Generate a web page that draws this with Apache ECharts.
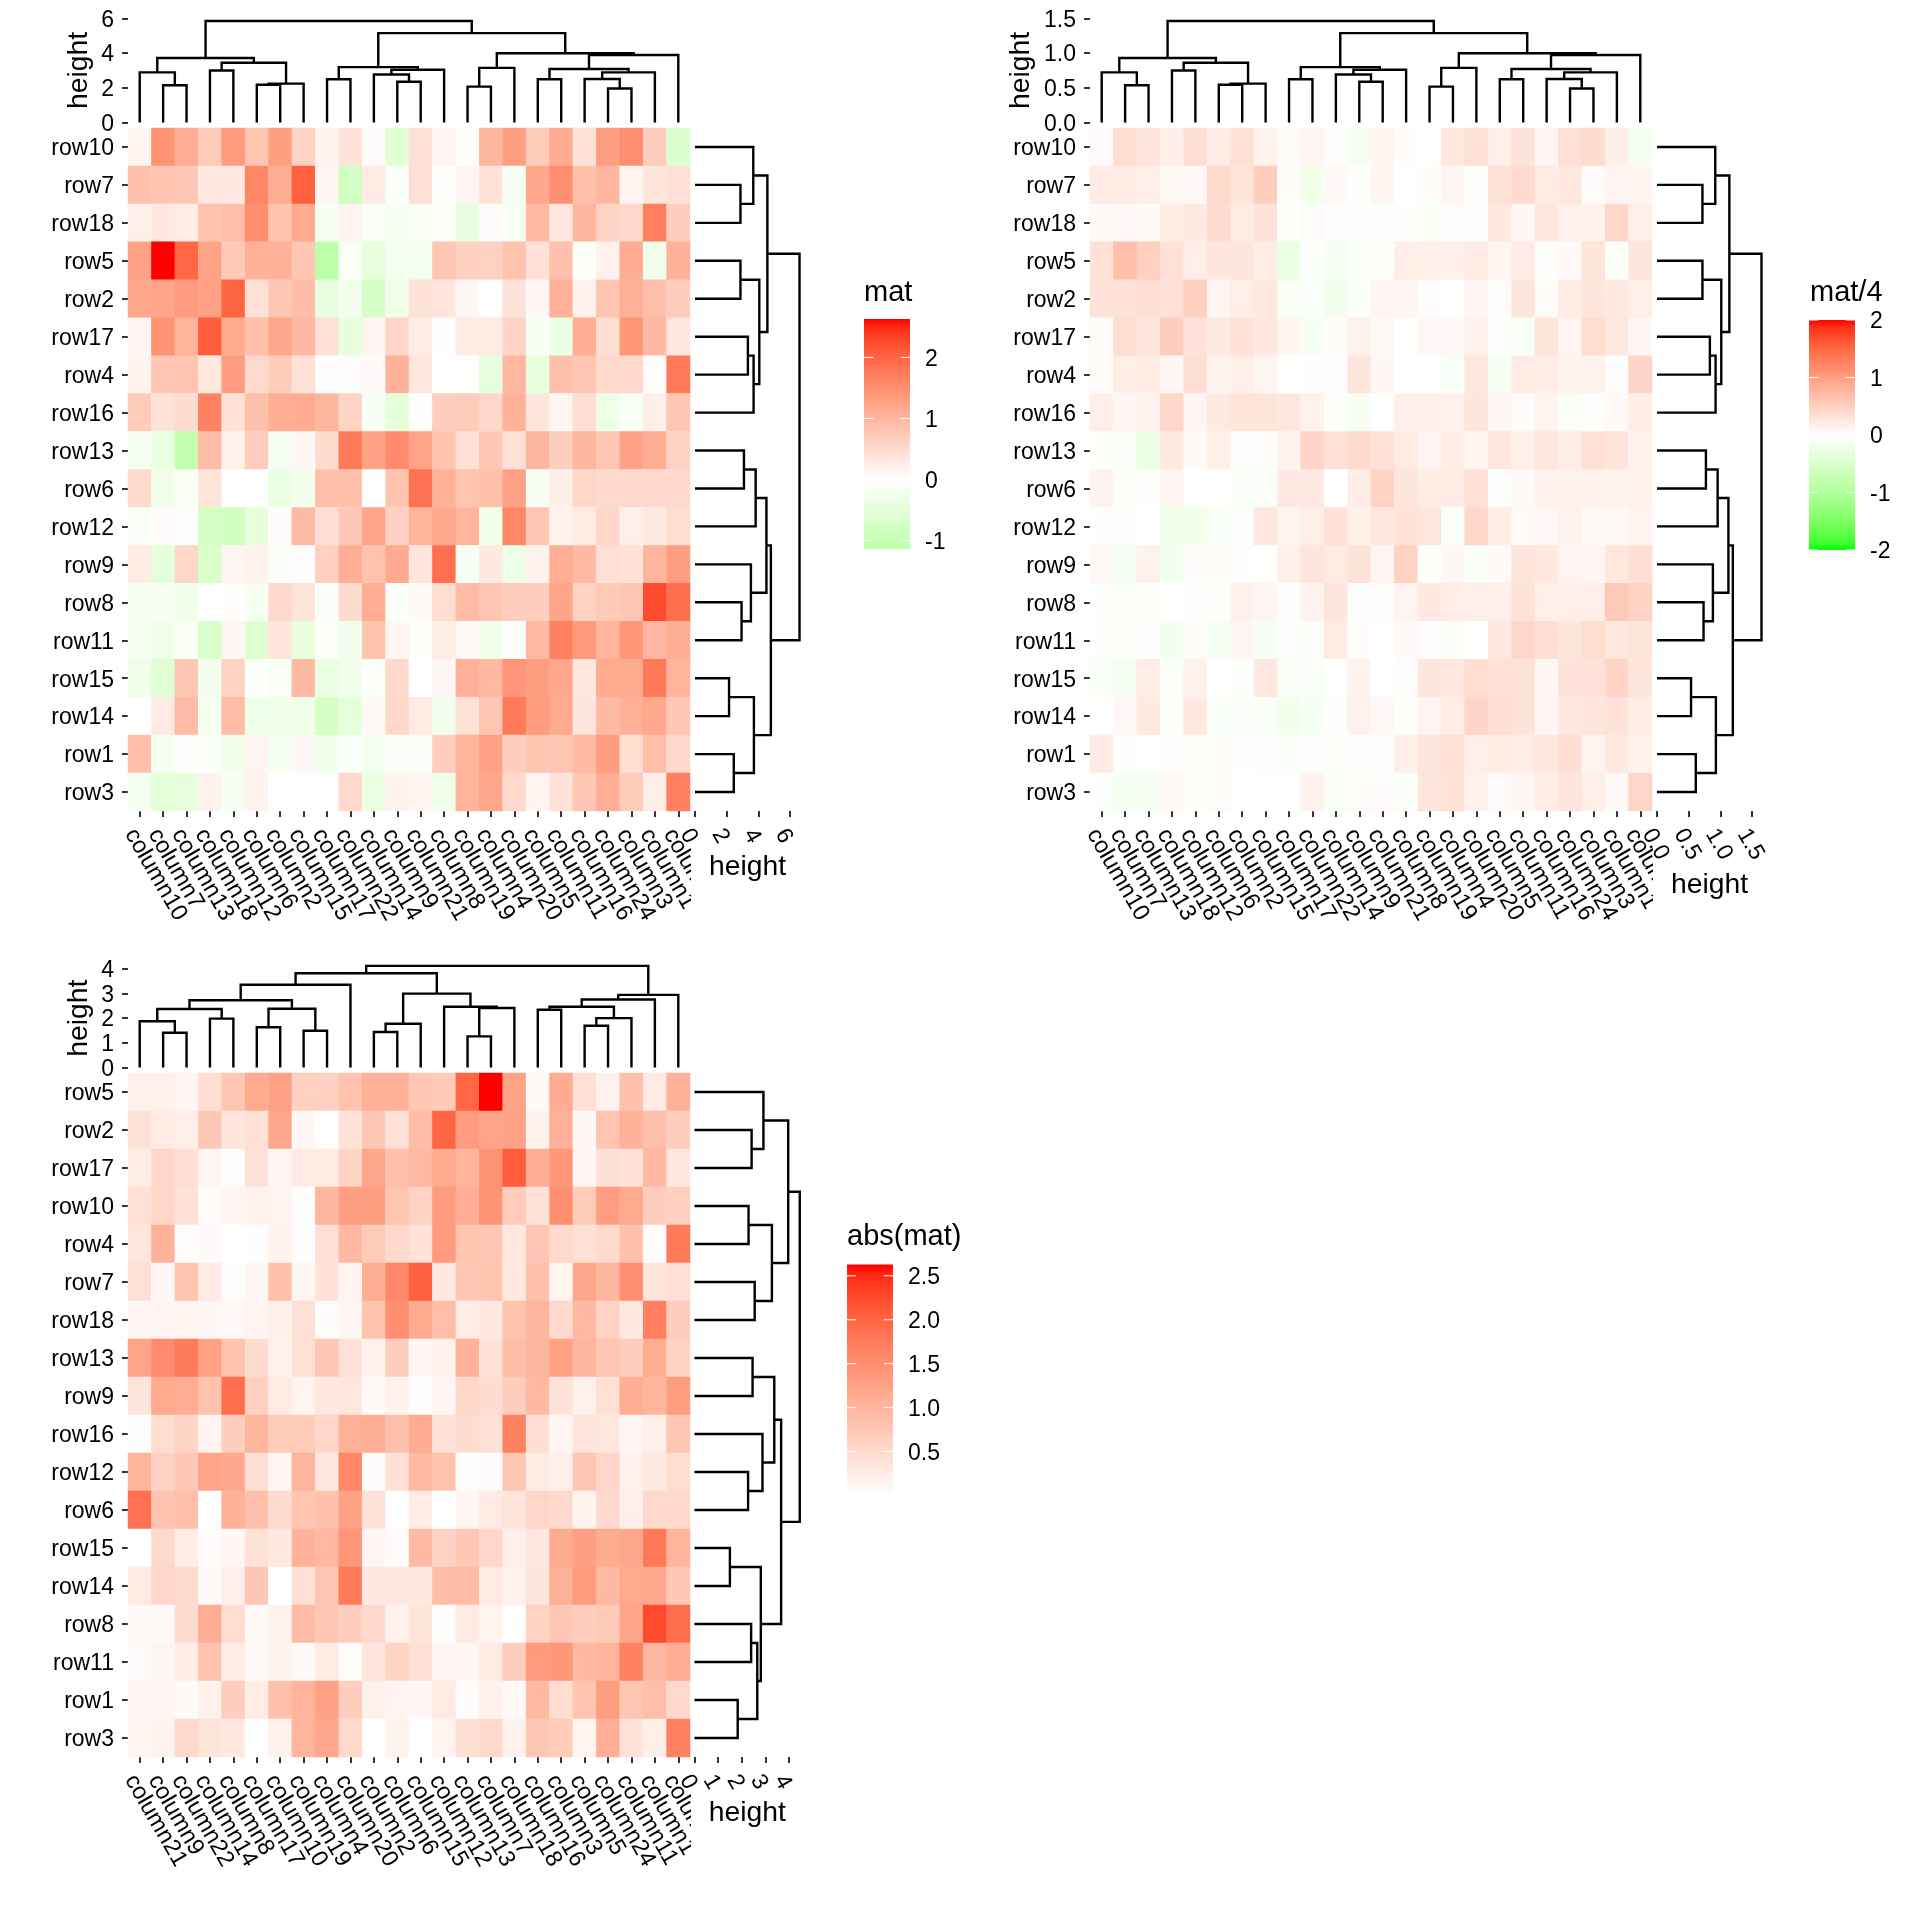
<!DOCTYPE html>
<html><head><meta charset="utf-8">
<style>html,body{margin:0;padding:0;background:#fff}#c{width:1920px;height:1920px}</style>
<script src="https://cdn.jsdelivr.net/npm/echarts@6/dist/echarts.min.js"></script>
</head><body><div id="c"></div>
<script>
const rowsA = ['row10','row7','row18','row5','row2','row17','row4','row16','row13','row6','row12','row9','row8','row11','row15','row14','row1','row3'];
const colsA = ['column10','column7','column13','column18','column12','column6','column2','column15','column17','column22','column14','column9','column21','column8','column19','column4','column20','column5','column11','column16','column24','column3','column1','column23'];
const rowsC = ['row5','row2','row17','row10','row4','row7','row18','row13','row9','row16','row12','row6','row15','row14','row8','row11','row1','row3'];
const colsC = ['column21','column9','column22','column14','column8','column17','column10','column19','column4','column20','column2','column6','column15','column12','column13','column7','column18','column16','column3','column5','column24','column11','column1','column23'];
// mat: rows follow rowsA, columns follow colsA
const mat = [
[.15,1.45,1.1,.7,1.35,.8,1.3,.6,.17,.38,.05,-.55,.42,.12,.02,1.0,1.3,.7,1.15,.4,1.32,1.5,.68,-.65],
[.85,.8,.75,.3,.3,1.6,1.12,2.05,.13,-.8,.27,-.1,.42,-.02,.13,.38,-.14,1.2,1.5,.85,1.0,.15,.35,.42],
[.22,.3,.25,.82,.9,1.5,.83,1.15,-.15,.15,-.1,-.14,-.13,-.09,-.42,.05,-.13,.95,.32,1.0,.6,.53,1.7,.68],
[1.27,2.63,1.98,1.25,.73,1.05,1.05,.77,-1.15,-.12,-.45,-.2,-.2,.78,.65,.63,.83,.42,.85,-.07,.2,1.13,-.27,1.05],
[1.2,1.22,1.35,1.28,2.0,.42,.75,.92,-.42,-.23,-.75,-.27,.4,.36,.1,0,.38,.1,1.05,.18,.8,1.07,.88,.68],
[.13,1.45,1.03,2.08,1.15,.88,1.2,.97,.42,-.45,.14,.55,.25,.02,.27,.27,.58,-.14,-.38,1.12,.44,1.4,.97,.33],
[.17,.77,.8,.33,1.35,.52,.7,.38,.02,.03,.06,1.05,.33,0,-.01,-.42,.97,-.43,.85,.78,.52,.52,.03,1.75],
[.7,.4,.48,1.65,.4,.87,1.12,1.13,1.0,.58,-.15,-.47,-.02,.67,.7,.57,1.05,.35,.12,.45,-.33,-.13,.22,.78],
[-.2,-.38,-1.05,.92,.2,.68,-.18,.1,.48,1.75,1.28,1.55,1.25,.83,.43,.77,.42,1.0,.67,1.0,.78,1.28,1.12,.6],
[.48,-.27,-.13,.37,0,0,-.38,-.25,.87,.87,0,.82,1.85,1.05,.8,.85,1.27,-.17,.22,.55,.53,.53,.52,.53],
[-.12,.04,.01,-.78,-.82,-.42,.04,.95,.45,.75,1.22,.63,1.02,1.18,1.02,-.3,1.62,.78,.18,.27,.55,.22,.3,.47],
[.27,-.48,.55,-.68,.12,.18,-.08,.02,.65,1.1,.83,1.17,.35,1.88,-.15,.32,-.33,.2,1.12,.95,.43,.38,1.02,1.33],
[-.17,-.15,-.27,0,.03,-.2,.53,.37,-.08,.48,1.1,-.07,.08,.47,.93,.78,.67,.67,1.22,.62,.73,.75,2.25,1.88],
[-.17,-.27,-.13,-.68,.13,-.58,.35,-.43,-.07,-.25,.83,.13,-.05,.25,.07,-.28,-.03,.95,1.68,1.37,1.03,1.4,.98,1.12],
[-.3,-.55,.77,-.22,.6,-.05,-.12,.95,-.38,-.25,-.05,.52,0,.1,1.05,.97,1.42,1.3,1.2,.33,1.15,1.15,1.78,1.03],
[0,.27,.93,-.2,.92,-.32,-.3,-.3,-.75,-.5,.08,.55,.28,-.22,.43,.78,1.75,1.35,1.17,.35,.95,1.07,1.18,.77],
[.85,-.18,-.03,-.08,-.27,.14,-.18,.1,-.25,-.08,-.2,-.12,-.12,.67,1.03,1.28,.67,.8,.78,.95,1.33,.47,.9,.53],
[-.18,-.53,-.45,.2,-.15,.17,0,0,0,.52,-.37,.17,.15,-.3,1.03,1.2,.53,.15,.4,.78,1.1,.7,.22,1.68]
];
// dendrogram merges: [left, right, height]; positive = leaf position, negative = k-th earlier merge
const topA = [[2,3,2.15],[1,-1,2.89],[4,5,3.0],[6,7,2.18],[-4,8,2.24],[-3,-5,3.44],[-2,-6,3.72],[9,10,2.49],[12,13,2.35],[11,-9,2.77],[-10,14,3.04],[-8,-11,3.19],[15,16,2.07],[-13,17,3.15],[18,19,2.49],[21,22,1.96],[20,-16,2.51],[-17,23,2.89],[-15,-18,3.08],[-19,24,3.89],[-14,-20,3.99],[-12,-21,5.15],[-7,-22,5.85]];
const rightA = [[2,3,2.87],[1,-1,3.68],[4,5,2.87],[6,7,3.34],[-4,8,3.70],[-3,-5,4.06],[-2,-6,4.57],[9,10,3.09],[-8,11,3.83],[13,14,2.94],[12,-10,3.53],[-9,-11,4.51],[15,16,2.15],[17,18,2.45],[-13,-14,3.72],[-12,-15,4.79],[-7,-16,6.6]];
const topC = [[2,3,1.41],[1,-1,1.87],[4,5,1.98],[-2,-3,2.37],[6,7,1.63],[8,9,1.49],[-5,-6,2.38],[-4,-7,2.72],[-8,10,3.35],[11,12,1.44],[-10,13,1.77],[15,16,1.26],[-12,17,2.41],[14,-13,2.46],[-11,-14,2.99],[-9,-15,3.81],[18,19,2.34],[20,21,1.69],[-18,22,2.0],[-17,-19,2.46],[-20,23,2.75],[-21,24,2.94],[-16,-22,4.11]];
const rightC = [[2,3,2.42],[1,-1,2.92],[4,5,2.29],[6,7,2.55],[-3,-4,3.28],[-2,-5,3.97],[8,9,2.46],[11,12,2.27],[10,-8,2.88],[-7,-9,3.38],[13,14,1.5],[15,16,2.4],[17,18,1.83],[-12,-13,2.66],[-11,-14,2.81],[-10,-15,3.67],[-6,-16,4.46]];
const ticksTopA=[0,2,4,6], ticksTopB=[0,0.5,1,1.5], ticksTopC=[0,1,2,3,4];
const ticksRightA=[0,2,4,6], ticksRightB=[0,0.5,1,1.5], ticksRightC=[0,2,4], ticksRightC2=[1,3];
const legendTicksA=[-1,0,1,2], legendTicksB=[-2,-1,0,1,2], legendTicksC=[0.5,1,1.5,2,2.5];

const FONT='"Liberation Sans"';
function toLab(c){const f=v=>{v/=255;return v<=.04045?v/12.92:Math.pow((v+.055)/1.055,2.4)};const r=f(c[0]),g=f(c[1]),b=f(c[2]);
 const X=(.4124564*r+.3575761*g+.1804375*b)/.95047,Y=.2126729*r+.7151522*g+.072175*b,Z=(.0193339*r+.119192*g+.9503041*b)/1.08883;
 const h=t=>t>.008856?Math.cbrt(t):7.787*t+16/116;return [116*h(Y)-16,500*(h(X)-h(Y)),200*(h(Y)-h(Z))];}
function fromLab(l){const y=(l[0]+16)/116,x=l[1]/500+y,z=y-l[2]/200;const h=t=>t*t*t>.008856?t*t*t:(t-16/116)/7.787;
 const X=h(x)*.95047,Y=h(y),Z=h(z)*1.08883;const r=3.2404542*X-1.5371385*Y-.4985314*Z,g=-.969266*X+1.8760108*Y+.041556*Z,b=.0556434*X-.2040259*Y+1.0572252*Z;
 const f=v=>{v=Math.max(0,Math.min(1,v));v=v<=.0031308?12.92*v:1.055*Math.pow(v,1/2.4)-.055;return Math.round(v*255)};return 'rgb('+f(r)+','+f(g)+','+f(b)+')';}
const WHITE=toLab([255,255,255]),RED=toLab([255,0,0]),GREEN=toLab([0,255,0]);
const mix=(a,b,t)=>fromLab(a.map((v,i)=>v+(b[i]-v)*t));
const colorFn=lim=>v=>{const t=Math.min(1,Math.abs(v)/lim);return v>=0?mix(WHITE,RED,t):mix(WHITE,GREEN,t)};
const sample=(fn,a,b,n)=>{const o=[];for(let i=0;i<=n;i++)o.push(fn(a+(b-a)*i/n));return o};

function tree(merges){const pos=[],segs=[];const get=k=>k>0?[k,0]:pos[-k-1];
 merges.forEach(m=>{const a=get(m[0]),b=get(m[1]);segs.push([a[0],a[1],b[0],b[1],m[2]]);pos.push([(a[0]+b[0])/2,m[2]]);});return segs;}
const scaleH=(ms,k)=>ms.map(m=>[m[0],m[1],m[2]*k]);

const panels=[
 {rows:rowsA,cols:colsA,data:mat,top:topA,right:rightA,ticksTop:ticksTopA,ticksRight:ticksRightA,fmt:v=>String(v),
  hl:128,hw:562,ht:128,hh:683,dt:18.4,db:122.5,rl:695,rw:105,rmax:6.63,nameGapY:35,nameGapX:42.5,
  lim:2.63,title:'mat',bar:[864,46,319,230],range:[-1.14,2.63],lt:legendTicksA,lf:v=>String(v),tl:864,ty:279},
 {rows:rowsA,cols:colsA,data:mat.map(r=>r.map(v=>v/4)),top:scaleH(topA,.25),right:scaleH(rightA,.25),ticksTop:ticksTopB,ticksRight:ticksRightB,fmt:v=>v.toFixed(1),
  hl:1090,hw:562,ht:128,hh:683,dt:18.4,db:122.5,rl:1657,rw:105,rmax:1.658,nameGapY:55,nameGapX:60,
  lim:2,title:'mat/4',bar:[1809,46,320,230],range:[-2,2],lt:legendTicksB,lf:v=>String(v),tl:1810,ty:279},
 {rows:rowsC,cols:colsC,data:rowsC.map(r=>colsC.map(c=>Math.abs(mat[rowsA.indexOf(r)][colsA.indexOf(c)]))),top:topC,right:rightC,ticksTop:ticksTopC,ticksRight:ticksRightC,ticksRight2:ticksRightC2,fmt:v=>String(v),
  hl:128,hw:562,ht:1073,hh:684,dt:968.6,db:1067.6,rl:694.5,rw:105.5,rmax:4.47,nameGapY:35,nameGapX:42,
  lim:2.63,abs:true,title:'abs(mat)',bar:[847,46,1264.4,230.2],range:[0.01,2.63],lt:legendTicksC,lf:v=>v.toFixed(1),tl:847,ty:1223}
];

const grid=[],xAxis=[],yAxis=[],series=[],visualMap=[],title=[],covers=[];
const tickStyle={show:true,length:6,lineStyle:{color:'#333',width:2}};
const TS={color:'#000',fontFamily:FONT};
const YLAB={verticalAlign:'top',lineHeight:4,showMinLabel:true,showMaxLabel:true,hideOverlap:false};
const XLAB={rotate:-60,verticalAlign:'top',lineHeight:22,margin:14,showMinLabel:true,showMaxLabel:true,hideOverlap:false};
function segRender(horizontal){return function(params,api){
  const v=[0,1,2,3,4].map(i=>api.value(i));
  const p=horizontal?[[v[1],v[0]],[v[4],v[0]],[v[4],v[2]],[v[3],v[2]]]:[[v[0],v[1]],[v[0],v[4]],[v[2],v[4]],[v[2],v[3]]];
  return {type:'polyline',shape:{points:p.map(q=>api.coord(q))},style:{fill:null,stroke:'#000',lineWidth:2.4}};
};}
panels.forEach(p=>{
 let g=grid.length;
 // heatmap
 grid.push({left:p.hl,top:p.ht,width:p.hw,height:p.hh});
 xAxis.push({gridIndex:g,type:'category',data:p.cols,z:0,axisLine:{show:false},axisTick:Object.assign({alignWithLabel:true},tickStyle),splitLine:{show:false},
   axisLabel:Object.assign({},TS,XLAB,{interval:0,fontSize:23.5})});
 yAxis.push({gridIndex:g,type:'category',data:p.rows,inverse:true,axisLine:{show:false},axisTick:Object.assign({alignWithLabel:true},tickStyle),splitLine:{show:false},
   axisLabel:Object.assign({},TS,YLAB,{interval:0,fontSize:23,margin:14})});
 const fn=p.abs?(v=>mix(WHITE,RED,Math.min(1,v/p.lim))):colorFn(p.lim);
 visualMap.push({show:false,type:'continuous',seriesIndex:series.length,min:p.abs?0:-p.lim,max:p.lim,dimension:2,inRange:{color:sample(fn,p.abs?0:-p.lim,p.lim,p.abs?40:80)}});
 const hd=[];p.data.forEach((r,i)=>r.forEach((v,j)=>hd.push([j,i,v])));
 series.push({type:'heatmap',xAxisIndex:g,yAxisIndex:g,data:hd,silent:true,itemStyle:{borderWidth:0},emphasis:{disabled:true},progressive:0});
 // top dendrogram
 g=grid.length;
 grid.push({left:p.hl,top:p.dt,width:p.hw,height:p.db-p.dt});
 xAxis.push({gridIndex:g,type:'value',min:.5,max:24.5,show:false});
 yAxis.push({gridIndex:g,type:'value',min:p.ticksTop[0],max:p.ticksTop[p.ticksTop.length-1],interval:p.ticksTop[1]-p.ticksTop[0],
   name:'height',nameLocation:'middle',nameGap:p.nameGapY,nameTextStyle:Object.assign({},TS,{fontSize:28.3}),
   axisLine:{show:false},axisTick:tickStyle,splitLine:{show:false},axisLabel:Object.assign({},TS,YLAB,{fontSize:23,margin:14,formatter:p.fmt})});
 series.push({type:'custom',xAxisIndex:g,yAxisIndex:g,data:tree(p.top),renderItem:segRender(false),silent:true,clip:false,encode:{x:[0,2],y:[1,3,4]}});
 // right dendrogram
 g=grid.length;
 grid.push({left:p.rl,top:p.ht,width:p.rw,height:p.hh});
 xAxis.push({gridIndex:g,type:'value',min:0,max:p.rmax,z:5,name:'height',nameLocation:'middle',nameGap:p.nameGapX,nameTextStyle:Object.assign({},TS,{fontSize:28.3}),
   axisLine:{show:false},axisTick:Object.assign({},tickStyle,{customValues:p.ticksRight}),splitLine:{show:false},
   axisLabel:Object.assign({},TS,XLAB,{fontSize:23,customValues:p.ticksRight,formatter:p.fmt})});
 yAxis.push({gridIndex:g,type:'value',min:.5,max:18.5,inverse:true,show:false});
 series.push({type:'custom',xAxisIndex:g,yAxisIndex:g,data:tree(p.right),renderItem:segRender(true),silent:true,clip:false,encode:{x:[1,3,4],y:[0,2]}});
 // dense tick values that the axis would otherwise drop: a second axis on the same geometry
 if(p.ticksRight2){
  g=grid.length;
  grid.push({left:p.rl,top:p.ht,width:p.rw,height:p.hh});
  xAxis.push({gridIndex:g,type:'value',min:0,max:p.rmax,z:5,axisLine:{show:false},axisTick:Object.assign({},tickStyle,{customValues:p.ticksRight2}),splitLine:{show:false},
    axisLabel:Object.assign({},TS,XLAB,{fontSize:23,customValues:p.ticksRight2,formatter:p.fmt})});
  yAxis.push({gridIndex:g,type:'value',min:.5,max:18.5,inverse:true,show:false});
 }
 // colour bar
 g=grid.length;
 grid.push({left:p.bar[0],width:p.bar[1],top:p.bar[2],height:p.bar[3]});
 xAxis.push({gridIndex:g,type:'value',min:0,max:1,show:false});
 yAxis.push({gridIndex:g,type:'value',position:'right',min:p.range[0],max:p.range[1],axisLine:{show:false},axisTick:{show:false},splitLine:{show:false},
   axisLabel:Object.assign({},TS,YLAB,{fontSize:23,margin:15,customValues:p.lt,formatter:p.lf})});
 const stops=sample(fn,p.range[0],p.range[1],30);
 series.push({type:'custom',xAxisIndex:g,yAxisIndex:g,data:[[0,1,p.range[0],p.range[1]]],silent:true,clip:false,encode:{x:[0,1],y:[2,3]},
   renderItem:(pa,api)=>{const a=api.coord([api.value(0),api.value(3)]),b=api.coord([api.value(1),api.value(2)]);
     return {type:'rect',shape:{x:a[0],y:a[1],width:b[0]-a[0],height:b[1]-a[1]},
       style:{fill:new echarts.graphic.LinearGradient(0,1,0,0,stops.map((c,i)=>({offset:i/30,color:c})))}};}});
 series.push({type:'custom',xAxisIndex:g,yAxisIndex:g,z:3,data:p.lt.map(v=>[v]),silent:true,clip:false,encode:{y:0},
   renderItem:(pa,api)=>{const v=api.value(0),w=p.bar[1]/5,a=api.coord([0,v]),b=api.coord([1,v]);
     return {type:'group',children:[
       {type:'line',shape:{x1:a[0],y1:a[1],x2:a[0]+w,y2:a[1]},style:{stroke:'#fff',lineWidth:1}},
       {type:'line',shape:{x1:b[0]-w,y1:b[1],x2:b[0],y2:b[1]},style:{stroke:'#fff',lineWidth:1}}]};}});
 title.push({text:p.title,left:p.tl,top:p.ty-1,padding:0,textStyle:{fontFamily:FONT,fontSize:29,fontWeight:'normal',color:'#000'}});
 covers.push({type:'rect',shape:{x:p.hl+p.hw+1,y:p.ht+p.hh+7,width:120,height:125},style:{fill:'#fff'}});
});
const chart=echarts.init(document.getElementById('c'),null,{renderer:'canvas',width:1920,height:1920});
chart.setOption({animation:false,backgroundColor:'#fff',textStyle:{fontFamily:FONT,color:'#000'},title,grid,xAxis,yAxis,visualMap,series,
  graphic:{z:1,elements:covers.map(c=>Object.assign({z:1},c))}});
</script></body></html>
